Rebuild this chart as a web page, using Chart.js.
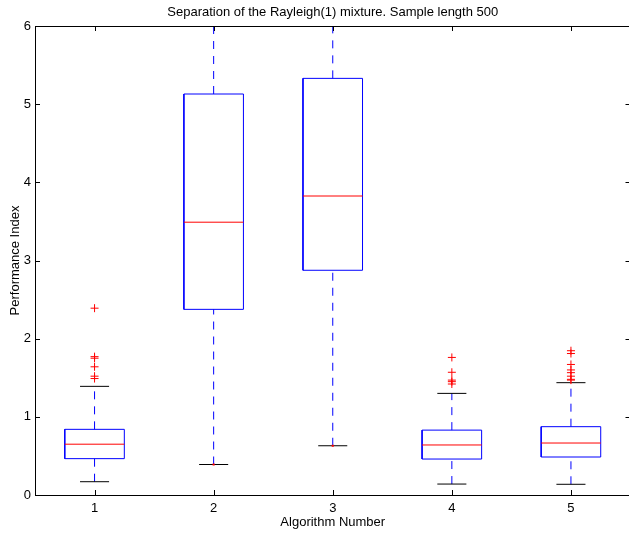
<!DOCTYPE html>
<html>
<head>
<meta charset="utf-8">
<script src="https://cdn.jsdelivr.net/npm/chart.js@4/dist/chart.umd.min.js"></script>
<style>
  html, body { margin: 0; padding: 0; background: #fff; overflow: hidden; }
  #wrap { width: 629px; height: 533px; overflow: hidden; }
</style>
</head>
<body>
<div id="wrap"><canvas id="my-chart" width="640" height="533"></canvas></div>
<script>
// values
const categories = [1, 2, 3, 4, 5];
const q1 = [0.465, 2.375, 2.875, 0.46, 0.486];
const medians = [0.65, 3.49, 3.825, 0.64, 0.665];
const q3 = [0.84, 5.13, 5.33, 0.83, 0.874];
const lowerWhisker = [0.17, 0.39, 0.63, 0.14, 0.137];
const upperWhisker = [1.39, 9, 9, 1.30, 1.437];
const outliers = [
  [2.39, 1.77, 1.75, 1.64, 1.52, 1.49],
  [],
  [],
  [1.76, 1.57, 1.47, 1.45, 1.42],
  [1.846, 1.81, 1.67, 1.60, 1.565, 1.52, 1.48, 1.47]
];
const lowDots = [null, 0.39, 0.63, null, null];
const xTicks = [1, 2, 3, 4, 5];
const yTicks = [0, 1, 2, 3, 4, 5, 6];

const blue = 'rgb(0,0,255)';
const red = 'rgb(255,0,0)';
const boxHalf = 0.25;   // box half width in x units
const capHalf = 0.122;  // whisker cap half width

const datasets = [];
const seg = (pts, color, dash, order) => ({
  type: 'line', data: pts, borderColor: color, borderWidth: 1,
  borderDash: dash || [], pointRadius: 0, tension: 0, fill: false, order: order || 0
});

categories.forEach((c, i) => {
  // dashed whiskers
  datasets.push(seg([{x: c, y: q3[i]}, {x: c, y: upperWhisker[i]}], blue, [8, 7], 3));
  datasets.push(seg([{x: c, y: lowerWhisker[i]}, {x: c, y: q1[i]}], blue, [8, 7], 3));
  // caps
  datasets.push(seg([{x: c - capHalf, y: upperWhisker[i]}, {x: c + capHalf, y: upperWhisker[i]}], '#000', null, 2));
  datasets.push(seg([{x: c - capHalf, y: lowerWhisker[i]}, {x: c + capHalf, y: lowerWhisker[i]}], '#000', null, 2));
  // box
  datasets.push(seg([
    {x: c - boxHalf, y: q1[i]}, {x: c + boxHalf, y: q1[i]},
    {x: c + boxHalf, y: q3[i]}, {x: c - boxHalf, y: q3[i]},
    {x: c - boxHalf, y: q1[i]}
  ], blue, null, 2));
  // median
  datasets.push(seg([{x: c - boxHalf, y: medians[i]}, {x: c + boxHalf, y: medians[i]}], red, null, 1));
});

// outliers
const outlierPts = [];
categories.forEach((c, i) => outliers[i].forEach(v => outlierPts.push({x: c, y: v})));
datasets.push({
  type: 'scatter', data: outlierPts, order: 0,
  pointStyle: 'cross', pointRadius: 4, borderColor: red, borderWidth: 1
});

// small red dots on the lower caps of 2 and 3
datasets.push({
  type: 'scatter', order: -1,
  data: categories.map((c, i) => ({x: c, y: lowDots[i]})).filter(p => p.y !== null),
  pointStyle: 'rect', pointRadius: 1.5, backgroundColor: red, borderColor: red, borderWidth: 0
});

// MATLAB style frame with inward ticks
const frameTicks = {
  id: 'frameTicks',
  afterDatasetsDraw(chart) {
    const ctx = chart.ctx;
    const a = chart.chartArea;
    const xs = chart.scales.x, ys = chart.scales.y;
    ctx.save();
    ctx.strokeStyle = '#000';
    ctx.lineWidth = 1;
    ctx.beginPath();
    xs.ticks.forEach(t => {
      const x = Math.round(xs.getPixelForValue(t.value)) + 0.5;
      ctx.moveTo(x, a.bottom); ctx.lineTo(x, a.bottom - 5);
      ctx.moveTo(x, a.top); ctx.lineTo(x, a.top + 5);
    });
    ys.ticks.forEach(t => {
      const y = Math.round(ys.getPixelForValue(t.value)) + 0.5;
      ctx.moveTo(a.left, y); ctx.lineTo(a.left + 5, y);
      ctx.moveTo(a.right, y); ctx.lineTo(a.right - 5, y);
    });
    ctx.stroke();
    ctx.strokeRect(Math.round(a.left) + 0.5, Math.round(a.top) + 0.5,
      Math.round(a.right - a.left), Math.round(a.bottom - a.top));
    ctx.restore();
  }
};

const family = "'Liberation Sans', Arial, Helvetica, sans-serif";
const font = {family: family, size: 13};

const chart = new Chart(document.getElementById('my-chart').getContext('2d'), {
  type: 'line',
  data: {datasets: datasets},
  options: {
    responsive: false,
    animation: false,
    layout: {padding: {left: 0, right: 9.5, top: 0, bottom: 0}},
    plugins: {
      legend: {display: false},
      tooltip: {enabled: false},
      title: {
        display: true,
        text: 'Separation of the Rayleigh(1) mixture. Sample length 500',
        color: '#000',
        fullSize: false,
        font: {family: family, size: 13, weight: 'normal'},
        padding: {top: 5, bottom: 5.4}
      }
    },
    scales: {
      x: {
        type: 'linear',
        min: 0.5, max: 5.5,
        grid: {display: false, drawTicks: false},
        border: {display: false},
        afterBuildTicks(s) { s.ticks = xTicks.map(v => ({value: v})); },
        ticks: {color: '#000', font: font, padding: 6, maxRotation: 0},
        title: {display: true, text: 'Algorithm Number', color: '#000',
          font: font, padding: {top: 0, bottom: 3}},
        afterFit(s) { s.height = 38; }
      },
      y: {
        min: 0, max: 6,
        grid: {display: false, drawTicks: false},
        border: {display: false},
        afterBuildTicks(s) { s.ticks = yTicks.map(v => ({value: v})); },
        ticks: {color: '#000', font: font, padding: 4},
        title: {display: true, text: 'Performance Index', color: '#000',
          font: font, padding: {top: 8, bottom: 0}},
        afterFit(s) { s.width = 35; }
      }
    }
  },
  plugins: [frameTicks]
});
</script>
</body>
</html>
